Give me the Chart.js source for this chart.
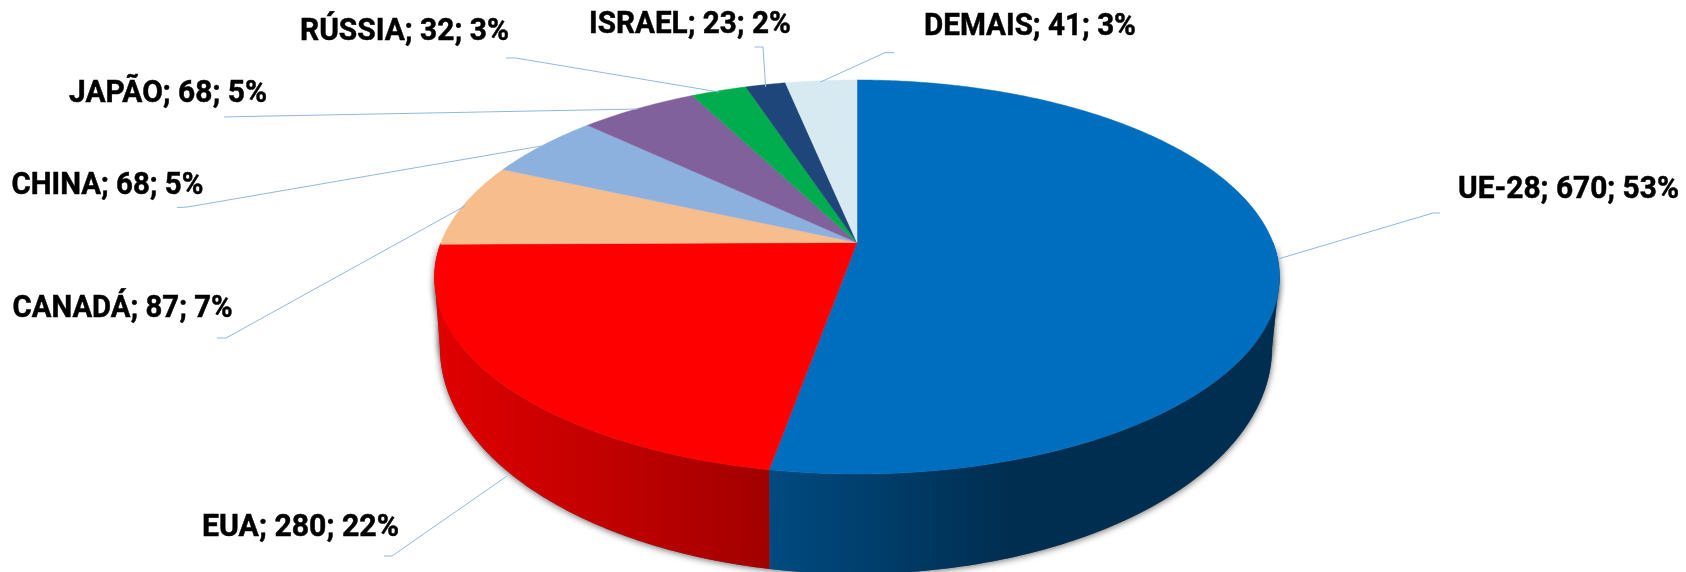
<!DOCTYPE html>
<html>
<head>
<meta charset="utf-8">
<style>html,body{margin:0;padding:0;background:#fff;overflow:hidden}#w{width:1686px;height:572px;position:relative}</style>
<script src="https://cdn.jsdelivr.net/npm/chart.js@4"></script>
</head>
<body>
<div id="w"><canvas id="c" width="1686" height="572"></canvas></div>
<script>
const categories = ['UE-28','EUA','CANADÁ','CHINA','JAPÃO','RÚSSIA','ISRAEL','DEMAIS'];
const values = [670,280,87,68,68,32,23,41];
const percents = [53,22,7,5,5,3,2,3];
const colors = ['#006EBE','#FF0000','#F7BD8D','#8DB1DE','#80619C','#00AD4E','#1F467A','#D8EAF1'];

// Layout of the perspective projection (tilted disc), relative to the arc centre
const TOP = {dx:0, cy:242.5, a:416, b:148.5, k:0.1751};
const BOT = {dx:-1, cy:308.4, a:409.6, b:165, k:0.1751};
// Label anchor: left x, baseline y, target width
const labelBoxes = [[1458,198,221],[202,536,197],[12.6,317,220],[11.5,194,192],[69,102,198],[300,40,209],[589,33,202],[924,35,212]];
const leaders = [
 [[1278,259],[1433,213],[1440,213]],
 [[507,476],[392,556],[384,556]],
 [[465,206],[226,338],[217,338]],
 [[541.5,146],[187.5,207],[177,207.5]],
 [[638,109],[245,116.5],[224,117]],
 [[719,92],[515.6,58],[506,58]],
 [[765.6,87],[763,47],[754.5,47]],
 [[820.5,82],[885,52.7],[894,52.7]]
];
function proj(P,cx,ang,f){
  const u=Math.cos(ang)*f, v=-Math.sin(ang)*f, d=1+P.k*v;
  return [cx+P.dx+P.a*u/d,(P.cy-P.b*v)/d];
}
function rim(ctx,P,cx,a0,a1,move){
  const n=Math.max(2,Math.ceil(Math.abs(a1-a0)/0.01));
  for(let i=0;i<=n;i++){
    const p=proj(P,cx,a0+(a1-a0)*i/n,1);
    if(i===0&&move)ctx.moveTo(p[0],p[1]);else ctx.lineTo(p[0],p[1]);
  }
}
const disc3d={
  id:'disc3d',
  beforeDatasetDraw(chart,args){
    const ctx=chart.ctx, arcs=chart.getDatasetMeta(args.index).data, cx=arcs[0].x;
    const F0=0, F1=Math.PI; // front half of the rim, in canvas angles
    const ext=Math.asin(TOP.k);
    const wall=(a0,a1)=>{ctx.beginPath();rim(ctx,TOP,cx,a0,a1,true);rim(ctx,BOT,cx,a1,a0,false);ctx.closePath();};
    // tangent side pieces joining the widest rim point to the widest base point
    const side=(a,b)=>{
      const p=proj(TOP,cx,a,1), q=proj(BOT,cx,a,1), r=proj(BOT,cx,b,1);
      ctx.beginPath();ctx.moveTo(p[0],p[1]);ctx.lineTo(q[0],q[1]);ctx.lineTo(r[0],r[1]);ctx.closePath();
    };
    const sideR=()=>side(ext,ext+0.5), sideL=()=>side(Math.PI-ext,Math.PI-ext-0.5);
    // soft contact shadow round the wall
    ctx.save();
    ctx.shadowColor='rgba(0,0,0,0.6)';ctx.shadowBlur=7;ctx.shadowOffsetX=0;ctx.shadowOffsetY=1;
    ctx.fillStyle='#555';
    wall(F0,F1);ctx.fill();sideR();ctx.fill();sideL();ctx.fill();
    ctx.restore();
    // side wall with horizontal shading
    const gBlue=ctx.createLinearGradient(771,0,1010,0);
    gBlue.addColorStop(0,'#004A80');gBlue.addColorStop(1,'#002E50');
    const gRed=ctx.createLinearGradient(437,0,771,0);
    gRed.addColorStop(0,'#E00000');gRed.addColorStop(1,'#A20000');
    arcs.forEach((arc,i)=>{
      const a0=Math.max(arc.startAngle,F0), a1=Math.min(arc.endAngle,F1);
      if(a1<=a0)return;
      ctx.fillStyle=i===0?gBlue:gRed;
      wall(a0,a1);ctx.fill();
    });
    ctx.fillStyle=gBlue;sideR();ctx.fill();
    ctx.fillStyle=gRed;sideL();ctx.fill();
    // top face
    arcs.forEach((arc,i)=>{
      const c=proj(TOP,cx,0,0);
      ctx.beginPath();ctx.moveTo(c[0],c[1]);
      rim(ctx,TOP,cx,arc.startAngle,arc.endAngle,false);ctx.closePath();
      ctx.fillStyle=arc.options.backgroundColor;ctx.fill();
      ctx.strokeStyle=arc.options.backgroundColor;ctx.lineWidth=0.5;ctx.stroke();
    });
    return false;
  },
  afterDatasetsDraw(chart){
    const ctx=chart.ctx;
    ctx.save();
    ctx.strokeStyle='#93B6E4';ctx.lineWidth=1;
    leaders.forEach(L=>{ctx.beginPath();L.forEach((p,i)=>i?ctx.lineTo(p[0],p[1]):ctx.moveTo(p[0],p[1]));ctx.stroke();});
    ctx.fillStyle='#000';ctx.strokeStyle='#000';ctx.lineWidth=0.5;ctx.textBaseline='alphabetic';ctx.textAlign='left';
    ctx.font='bold 31px Roboto';
    categories.forEach((c,i)=>{
      const t=c+'; '+values[i]+'; '+percents[i]+'%', B=labelBoxes[i];
      ctx.save();ctx.translate(B[0],B[1]);ctx.scale(B[2]/ctx.measureText(t).width,1);
      ctx.fillText(t,0,0);ctx.strokeText(t,0,0);ctx.restore();
    });
    ctx.restore();
  }
};
new Chart(document.getElementById('c'),{
  type:'pie',
  data:{labels:categories,datasets:[{data:values,backgroundColor:colors,borderWidth:0}]},
  options:{responsive:false,animation:false,layout:{padding:{left:28}},
    plugins:{legend:{display:false},tooltip:{enabled:false},title:{display:false}}},
  plugins:[disc3d]
});
</script>
</body>
</html>
